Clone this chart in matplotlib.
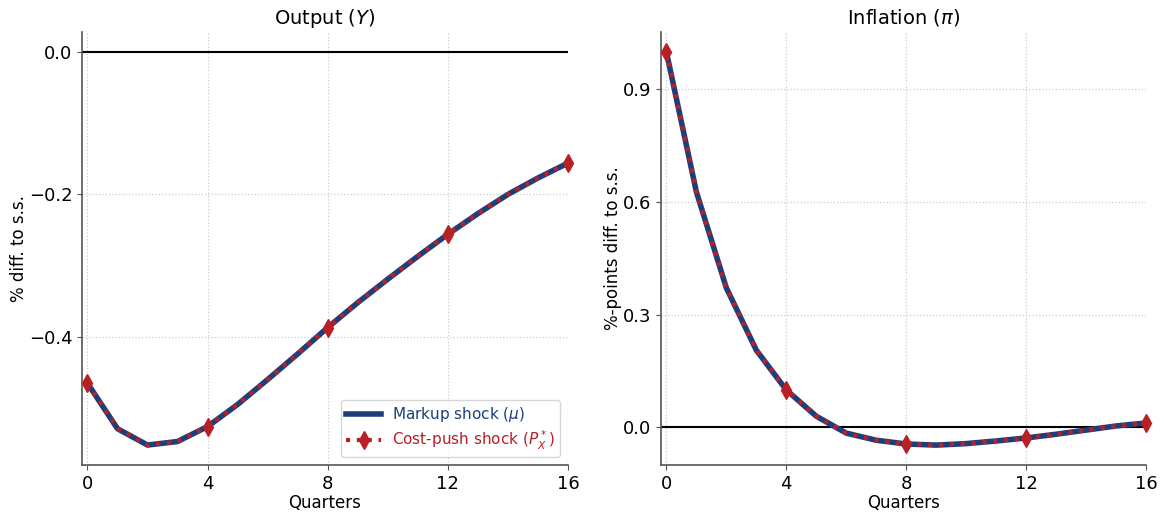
import numpy as np
import matplotlib
matplotlib.use("Agg")
import matplotlib.pyplot as plt

quarters = list(range(17))
output_markup = [-0.465, -0.529, -0.552, -0.547, -0.526, -0.495, -0.460, -0.424, -0.387,
                 -0.352, -0.319, -0.287, -0.256, -0.227, -0.200, -0.177, -0.156]
output_costpush = list(output_markup)
infl_markup = [1.0, 0.627, 0.371, 0.205, 0.099, 0.029, -0.016, -0.035, -0.045,
               -0.048, -0.044, -0.037, -0.029, -0.019, -0.008, 0.003, 0.011]
infl_costpush = list(infl_markup)

xticks = [0, 4, 8, 12, 16]
left_yticks = [0.0, -0.2, -0.4]
right_yticks = [0.0, 0.3, 0.6, 0.9]

blue = "#1c3f7c"
red = "#b82025"

W, H = 1164, 513
fig = plt.figure(figsize=(W / 100, H / 100), dpi=100)
ax1 = fig.add_axes([82 / W, 1 - 465 / H, (568 - 82) / W, (465 - 32) / H])
ax2 = fig.add_axes([661 / W, 1 - 465 / H, (1146 - 661) / W, (465 - 32) / H])

panels = [
    (ax1, output_markup, output_costpush, r"Output ($Y$)", "% diff. to s.s.", left_yticks,
     (-0.58, 0.028), ["0.0", "\u22120.2", "\u22120.4"]),
    (ax2, infl_markup, infl_costpush, r"Inflation ($\pi$)", "%-points diff. to s.s.", right_yticks,
     (-0.101, 1.053), ["0.0", "0.3", "0.6", "0.9"]),
]

for ax, mk, cp, title, ylabel, yt, ylim, ytl in panels:
    ax.axhline(0, color="black", lw=1.5, zorder=2)
    ax.plot(quarters, mk, color=blue, lw=4, label=r"Markup shock ($\mu$)", zorder=3)
    ax.plot(quarters, cp, color=red, lw=3, ls=(0, (1, 1.6)), marker="d", markersize=9,
            markevery=4, label=r"Cost-push shock ($P_X^*$)", zorder=4, clip_on=False)
    ax.set_title(title, fontsize=14)
    ax.set_xlabel("Quarters", fontsize=12, labelpad=1)
    ax.set_ylabel(ylabel, fontsize=12, labelpad=0.5)
    ax.set_xticks(xticks)
    ax.set_yticks(yt)
    ax.set_yticklabels(ytl)
    ax.tick_params(labelsize=13, length=3.5, color="#555555")
    ax.set_xlim(-0.18, 16)
    ax.set_ylim(*ylim)
    ax.grid(True, ls=":", color="#cccccc", lw=0.9, zorder=0.5)
    ax.set_axisbelow(True)
    ax.spines["top"].set_visible(False)
    ax.spines["right"].set_visible(False)
    ax.spines["left"].set_color("#555555")
    ax.spines["bottom"].set_color("#555555")
    ax.spines["left"].set_linewidth(1.2)
    ax.spines["bottom"].set_linewidth(1.2)

leg = ax1.legend(loc="lower right", fontsize=11, handlelength=2.3, labelspacing=0.3,
                 borderpad=0.35, handletextpad=0.7)
for txt, c in zip(leg.get_texts(), [blue, red]):
    txt.set_color(c)

fig.savefig("out.png", dpi=100)
